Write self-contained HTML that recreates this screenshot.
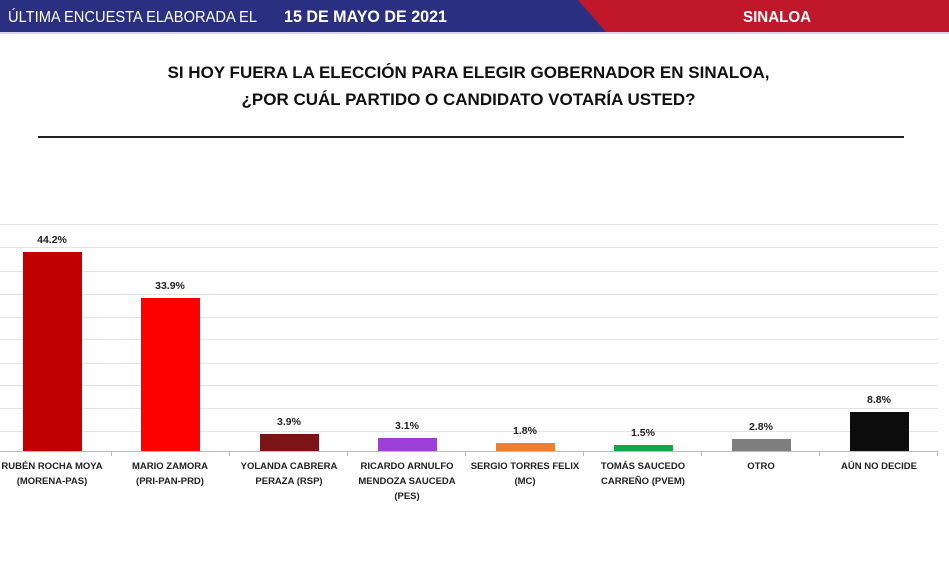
<!DOCTYPE html>
<html><head><meta charset="utf-8"><style>
body{margin:0;width:949px;height:579px;background:#fff;overflow:hidden;font-family:"Liberation Sans",sans-serif;position:relative}
.hdr{position:absolute;left:0;top:0;width:949px;height:34px}
.t{position:absolute;left:0;width:949px;text-align:center;font-weight:bold;font-size:17px;color:#111}
.grid{position:absolute;left:0;width:938px;height:1px;background:#e3e3e3}
.bar{position:absolute;width:59px}
.v{position:absolute;width:118px;text-align:center;font-weight:bold;font-size:10.5px;color:#222}
.l{position:absolute;top:459px;width:118px;text-align:center;font-weight:bold;font-size:9.5px;line-height:15px;color:#222}
.tick{position:absolute;top:451px;width:1px;height:5px;background:#bbb}
</style></head><body>
<svg class="hdr" width="949" height="34">
<rect x="0" y="0" width="949" height="32" fill="#c0182a"/>
<polygon points="0,0 578,0 606,32 0,32" fill="#2b2f82"/>
<rect x="0" y="32" width="949" height="2" fill="#d8d6f0"/>
<text x="8" y="22" fill="#fff" font-family="Liberation Sans" font-size="16" textLength="249" lengthAdjust="spacingAndGlyphs">ÚLTIMA ENCUESTA ELABORADA EL</text>
<text x="284" y="22" fill="#fff" font-family="Liberation Sans" font-size="17" font-weight="bold" textLength="163" lengthAdjust="spacingAndGlyphs">15 DE MAYO DE 2021</text>
<text x="743" y="22" fill="#fff" font-family="Liberation Sans" font-size="16" font-weight="bold" textLength="68" lengthAdjust="spacingAndGlyphs">SINALOA</text>
</svg>
<div class="t" style="top:63px;left:-6px">SI HOY FUERA LA ELECCIÓN PARA ELEGIR GOBERNADOR EN SINALOA,</div>
<div class="t" style="top:90px;left:-6px">¿POR CUÁL PARTIDO O CANDIDATO VOTARÍA USTED?</div>
<div style="position:absolute;left:38px;top:136px;width:866px;height:2px;background:#222"></div>

<div class="grid" style="top:224px"></div><div class="grid" style="top:247px"></div>
<div class="grid" style="top:271px"></div><div class="grid" style="top:294px"></div>
<div class="grid" style="top:317px"></div><div class="grid" style="top:339px"></div>
<div class="grid" style="top:363px"></div><div class="grid" style="top:385px"></div>
<div class="grid" style="top:408px"></div><div class="grid" style="top:431px"></div>
<div style="position:absolute;left:0;top:451px;width:938px;height:1px;background:#bbb"></div>
<div class="tick" style="left:111px"></div><div class="tick" style="left:229px"></div><div class="tick" style="left:347px"></div><div class="tick" style="left:465px"></div><div class="tick" style="left:583px"></div><div class="tick" style="left:701px"></div><div class="tick" style="left:819px"></div><div class="tick" style="left:937px"></div>

<div class="bar" style="left:23px;top:252px;height:199px;background:#c00000"></div>
<div class="bar" style="left:141px;top:298px;height:153px;background:#ff0000"></div>
<div class="bar" style="left:260px;top:434px;height:17px;background:#7b1416"></div>
<div class="bar" style="left:378px;top:438px;height:13px;background:#9b3fd8"></div>
<div class="bar" style="left:496px;top:443px;height:8px;background:#ed7d31"></div>
<div class="bar" style="left:614px;top:445px;height:6px;background:#12a54a"></div>
<div class="bar" style="left:732px;top:439px;height:12px;background:#7f7f7f"></div>
<div class="bar" style="left:850px;top:412px;height:39px;background:#0c0c0c"></div>

<div class="v" style="left:-7px;top:234px">44.2%</div>
<div class="v" style="left:111px;top:280px">33.9%</div>
<div class="v" style="left:230px;top:416px">3.9%</div>
<div class="v" style="left:348px;top:420px">3.1%</div>
<div class="v" style="left:466px;top:425px">1.8%</div>
<div class="v" style="left:584px;top:427px">1.5%</div>
<div class="v" style="left:702px;top:421px">2.8%</div>
<div class="v" style="left:820px;top:394px">8.8%</div>

<div class="l" style="left:-7px">RUBÉN ROCHA MOYA<br>(MORENA-PAS)</div>
<div class="l" style="left:111px">MARIO ZAMORA<br>(PRI-PAN-PRD)</div>
<div class="l" style="left:230px">YOLANDA CABRERA<br>PERAZA (RSP)</div>
<div class="l" style="left:348px">RICARDO ARNULFO<br>MENDOZA SAUCEDA<br>(PES)</div>
<div class="l" style="left:466px">SERGIO TORRES FELIX<br>(MC)</div>
<div class="l" style="left:584px">TOMÁS SAUCEDO<br>CARREÑO (PVEM)</div>
<div class="l" style="left:702px">OTRO</div>
<div class="l" style="left:820px">AÚN NO DECIDE</div>
</body></html>
